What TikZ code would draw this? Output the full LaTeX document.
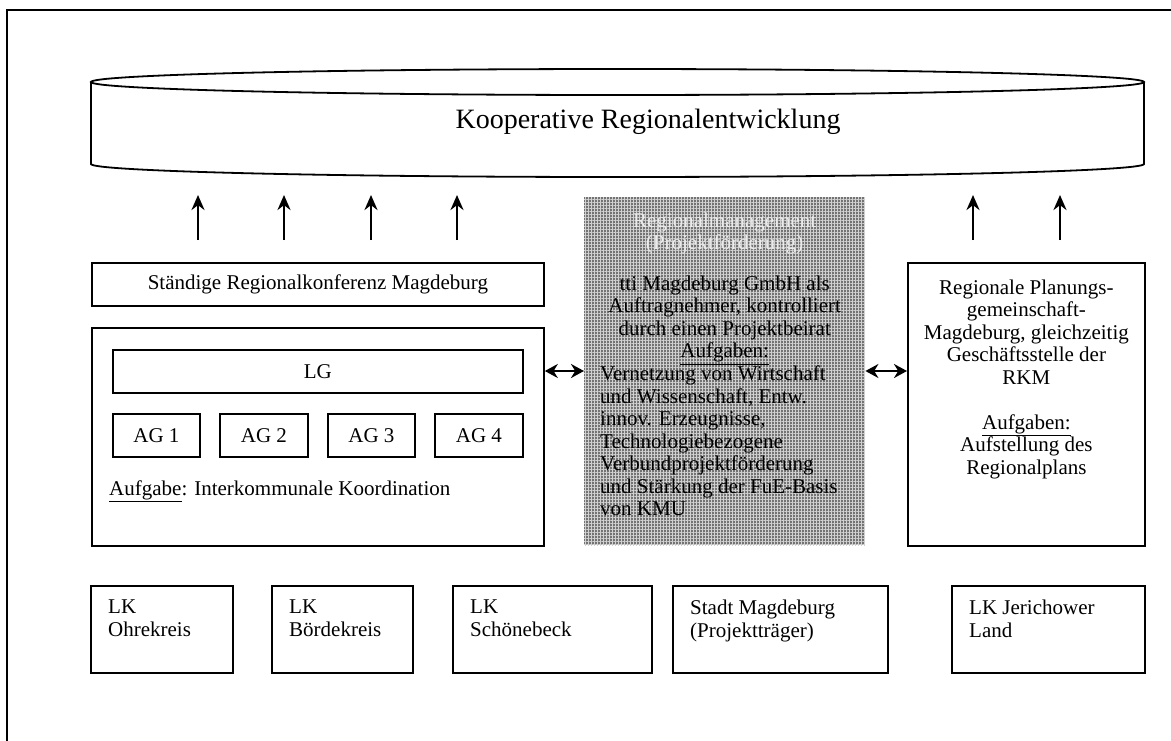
\documentclass[tikz,border=0pt]{standalone}
\usepackage{fontspec}
\setmainfont{Liberation Serif}
\usetikzlibrary{arrows.meta, patterns.meta, positioning}

\newcommand{\boxfont}{\fontsize{21}{22.5}\selectfont}
\newcommand{\titlefont}{\fontsize{28}{31}\selectfont}

\tikzset{
  box/.style={draw, line width=1.8pt, inner sep=0pt, anchor=north west, font=\boxfont},
  txt/.style={inner sep=0pt, font=\boxfont},
  uparrow/.style={line width=2.6pt, -{Stealth[length=15pt, width=13pt]}},
  linkarrow/.style={line width=2.6pt, {Stealth[length=13pt, width=14pt]}-{Stealth[length=13pt, width=14pt]}},
}

\begin{document}
\begin{tikzpicture}[x=1pt, y=-1pt]
  \useasboundingbox (0,0) rectangle (1171,740);

  % outer frame
  \draw[line width=2pt] (7,745) -- (7,10) -- (1176,10);

  % cylinder
  \draw[line width=1.8pt] (617.5,82) ellipse [x radius=526.5, y radius=13];
  \draw[line width=1.8pt] (91,82) -- (91,164) arc [start angle=180, end angle=360, x radius=526.5, y radius=-13] -- (1144,82);
  \node[font=\titlefont, anchor=base] (koop) at (648,128) {Kooperative Regionalentwicklung};

  % arrows up into the cylinder
  \foreach \x [count=\i] in {198,284,371,457,973,1060} {
    \coordinate (a\i) at (\x,240);
    \coordinate (b\i) at (\x,195);
    \draw[uparrow] (a\i) -- (b\i);
  }

  % left column
  \node[box, minimum width=452, minimum height=43] (srk) at (91,262) {St\"andige Regionalkonferenz Magdeburg};
  \node[box, minimum width=452, minimum height=218] (rk) at (91,327) {};
  \node[box, minimum width=410, minimum height=43] (lg) at (112,349) {LG};
  \node[box, minimum width=87, minimum height=43] (ag1) at (112,413) {AG 1};
  \node[box, minimum width=88, minimum height=43] (ag2) at (219,413) {AG 2};
  \node[box, minimum width=87, minimum height=43] (ag3) at (327,413) {AG 3};
  \node[box, minimum width=88, minimum height=43] (ag4) at (434,413) {AG 4};
  \node[txt, anchor=base west] (koord) at (109,495) {\underline{Aufgabe}: Interkommunale Koordination};

  % regional management
  \fill[black!55] (584,197) rectangle (865,545);
  \fill[pattern={Lines[angle=0, distance=3pt, line width=1pt]}, pattern color=black!18] (584,197) rectangle (865,545);
  \fill[pattern={Lines[angle=90, distance=3pt, line width=1pt]}, pattern color=black!18] (584,197) rectangle (865,545);
  \node[anchor=north west, inner sep=0pt, minimum width=281, minimum height=348] (rm) at (584,197) {};
  \node[txt, anchor=north, align=center, text=white!92!black] (rmtitle) at ([yshift=-15.7pt]rm.north) {Regionalmanagement\\(Projektf\"orderung)};
  \node[txt, anchor=north, align=center] (rmtask) at ([yshift=-78.7pt]rm.north) {tti Magdeburg GmbH als\\Auftragnehmer, kontrolliert\\durch einen Projektbeirat\\\underline{Aufgaben:}};
  \node[txt, anchor=north west, align=left] (rmlist) at ([shift={(16pt,-168.7pt)}]rm.north west) {Vernetzung von Wirtschaft\\und Wissenschaft, Entw.\\innov. Erzeugnisse,\\Technologiebezogene\\Verbundprojektf\"orderung\\und St\"arkung der FuE-Basis\\von KMU};

  % regional planning
  \node[box, minimum width=237, minimum height=283] (rpg) at (907,262) {};
  \node[txt, anchor=north, align=center] (rpgtext) at ([yshift=-17.7pt]rpg.north) {Regionale Planungs-\\gemeinschaft-\\Magdeburg, gleichzeitig\\Gesch\"aftsstelle der\\RKM\\[22.5pt]\underline{Aufgaben:}\\Aufstellung des\\Regionalplans};

  % links between the columns
  \draw[linkarrow] (rk.east |- 0,371) -- (rm.west |- 0,371);
  \draw[linkarrow] (rm.east |- 0,371) -- (rpg.west |- 0,371);

  % districts
  \node[box, minimum width=142, minimum height=87] (ohre) at (90,585) {};
  \node[box, minimum width=141, minimum height=87] (boerde) at (271,585) {};
  \node[box, minimum width=199, minimum height=87] (schoene) at (452,585) {};
  \node[box, minimum width=215, minimum height=87] (stadt) at (672,585) {};
  \node[box, minimum width=193, minimum height=87] (jerichow) at (951,585) {};
  \node[txt, anchor=north west, align=left] at ([shift={(18pt,-15pt)}]ohre.north west) {LK\\Ohrekreis};
  \node[txt, anchor=north west, align=left] at ([shift={(18pt,-15pt)}]boerde.north west) {LK\\B\"ordekreis};
  \node[txt, anchor=north west, align=left] at ([shift={(18pt,-15pt)}]schoene.north west) {LK\\Sch\"onebeck};
  \node[txt, anchor=north west, align=left] at ([shift={(18pt,-15pt)}]stadt.north west) {Stadt Magdeburg\\(Projekttr\"ager)};
  \node[txt, anchor=north west, align=left] at ([shift={(18pt,-15pt)}]jerichow.north west) {LK Jerichower\\Land};
\end{tikzpicture}
\end{document}
